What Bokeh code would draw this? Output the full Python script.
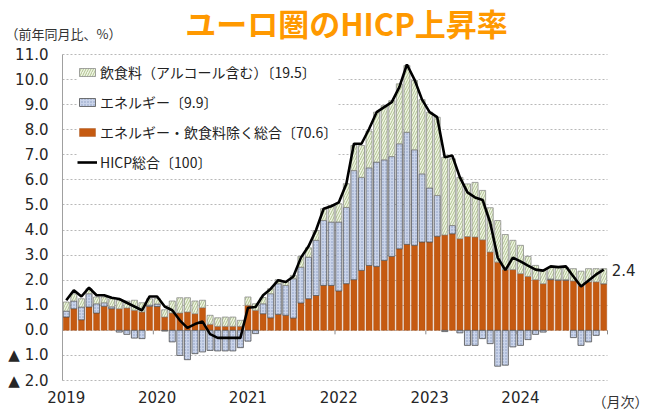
import numpy as np
from bokeh.plotting import figure
from bokeh.models import ColumnDataSource, FixedTicker, Label, Legend, LegendItem, Range1d, Grid
from bokeh.embed import file_html
from bokeh.resources import INLINE

# ---- data (percentage-point contributions, y/y %) ----
year_labels = ["2019", "2020", "2021", "2022", "2023", "2024"]

core = [0.53, 0.86, 0.42, 0.93, 0.69, 0.96, 0.86, 0.86, 0.89, 0.80, 0.73, 0.96,
        0.95, 0.53, 0.69, 0.69, 0.73, 0.66, 0.90, 0.24, 0.16, 0.16, 0.16, 0.16,
        1.00, 0.80, 0.66, 0.50, 0.64, 0.60, 0.49, 1.09, 1.26, 1.39, 1.79, 1.79,
        1.57, 1.86, 2.02, 2.39, 2.59, 2.55, 2.79, 2.95, 3.25, 3.43, 3.39, 3.52,
        3.52, 3.75, 3.80, 3.85, 3.65, 3.74, 3.72, 3.61, 3.12, 2.72, 2.42, 2.42,
        2.26, 2.15, 2.02, 1.86, 2.02, 2.00, 2.00, 1.97, 1.79, 1.93, 1.93, 1.86]

energy = [0.24, 0.31, 0.51, 0.53, 0.37, 0.14, 0.08, -0.07, -0.16, -0.31, -0.33, 0.05,
          0.10, -0.03, -0.46, -1.00, -1.17, -0.93, -0.86, -0.80, -0.82, -0.82, -0.82, -0.69,
          -0.43, -0.13, 0.40, 0.96, 1.22, 1.19, 1.57, 1.43, 1.66, 2.20, 2.59, 2.53,
          2.75, 3.04, 4.35, 3.71, 3.89, 4.16, 4.01, 3.98, 4.19, 4.47, 3.81, 2.72,
          2.16, 1.63, -0.05, 0.33, -0.10, -0.60, -0.60, -0.33, -0.53, -1.43, -1.39, -0.66,
          -0.60, -0.37, -0.16, -0.07, 0.03, 0.02, 0.02, -0.29, -0.60, -0.46, -0.20, 0.00]

food = [0.36, 0.29, 0.33, 0.20, 0.27, 0.23, 0.32, 0.34, 0.28, 0.40, 0.37, 0.25,
        0.22, 0.29, 0.48, 0.61, 0.57, 0.51, 0.30, 0.36, 0.34, 0.37, 0.37, 0.24,
        0.33, 0.26, 0.25, 0.20, 0.16, 0.14, 0.13, 0.43, 0.37, 0.39, 0.47, 0.66,
        0.73, 0.95, 1.00, 1.27, 1.47, 1.99, 2.16, 2.23, 2.39, 2.66, 2.76, 2.96,
        3.02, 3.12, 3.10, 2.66, 2.45, 2.10, 2.18, 1.97, 1.77, 1.66, 1.40, 1.17,
        1.13, 0.80, 0.57, 0.53, 0.45, 0.48, 0.48, 0.49, 0.57, 0.53, 0.53, 0.60]

hicp = [1.20, 1.60, 1.35, 1.70, 1.40, 1.40, 1.30, 1.25, 1.10, 0.95, 0.80, 1.35,
        1.35, 0.95, 0.80, 0.40, 0.10, 0.25, 0.35, -0.15, -0.30, -0.30, -0.30, -0.30,
        0.90, 0.93, 1.40, 1.65, 2.00, 1.93, 2.15, 2.90, 3.35, 4.00, 4.85, 4.95,
        5.10, 5.85, 7.44, 7.44, 8.03, 8.70, 8.90, 9.10, 9.70, 10.60, 10.00, 9.20,
        8.70, 8.50, 6.90, 6.97, 6.10, 5.50, 5.30, 5.20, 4.30, 2.90, 2.40, 2.90,
        2.75, 2.58, 2.42, 2.38, 2.55, 2.52, 2.55, 2.15, 1.75, 1.99, 2.23, 2.42]

y_ticks = [-2, -1, 0, 1, 2, 3, 4, 5, 6, 7, 8, 9, 10, 11]
y_tick_labels = ["▲ 2.0", "▲ 1.0", "0.0", "1.0", "2.0", "3.0", "4.0", "5.0",
                 "6.0", "7.0", "8.0", "9.0", "10.0", "11.0"]

legend_labels = ["飲食料（アルコール含む）〔19.5〕", "エネルギー〔9.9〕",
                 "エネルギー・飲食料除く総合〔70.6〕", "HICP総合〔100〕"]

# ---- derived stacking ----
n = len(core)
x = np.arange(n)
c = np.array(core)
e = np.array(energy)
f = np.array(food)
en_bottom = np.where(e >= 0, c, e)
en_top = np.where(e >= 0, c + e, 0.0)
food_bottom = c + np.maximum(e, 0)
food_top = food_bottom + f

src = ColumnDataSource(dict(x=x, core_top=c, en_bottom=en_bottom, en_top=en_top,
                            food_bottom=food_bottom, food_top=food_top, hicp=hicp))

# ---- layout geometry (pixels of the 650x412 canvas) ----
W, H = 650, 412
PL, PR, PT, PB = 62, 607, 54, 380            # plot area of the chart
x_lo, x_hi = -0.5, n - 0.5
y_lo, y_hi = y_ticks[0], y_ticks[-1]
sx = (PR - PL) / (x_hi - x_lo)
sy = (PB - PT) / (y_hi - y_lo)
xr = Range1d(x_lo - PL / sx, x_hi + (W - PR) / sx)
yr = Range1d(y_lo - (H - PB) / sy, y_hi + PT / sy)

def dx(px):   # canvas x pixel -> data x
    return x_lo + (px - PL) / sx

def dy(py):   # canvas y pixel -> data y
    return y_hi + (PT - py) / sy

p = figure(width=W, height=H, x_range=xr, y_range=yr,
           output_backend="svg", toolbar_location=None,
           min_border_left=0, min_border_right=0, min_border_top=0, min_border_bottom=0)
p.outline_line_color = None
p.background_fill_color = "white"
p.border_fill_color = "white"

CJK = "Noto Sans CJK JP"
NUM = "DejaVu Sans"
GRID_COLOR = "#b8b8b8"

# grid
p.xgrid.visible = False
yg = p.ygrid[0]
if "cross_bounds" in Grid.properties():
    yg.ticker = FixedTicker(ticks=y_ticks)
    yg.cross_bounds = (x_lo, x_hi)
    yg.grid_line_color = GRID_COLOR
    yg.grid_line_dash = "2 2"
    yg.grid_line_width = 1
else:
    yg.visible = False
    p.segment(x0=[x_lo] * len(y_ticks), y0=y_ticks, x1=[x_hi] * len(y_ticks), y1=y_ticks,
              line_color=GRID_COLOR, line_dash="2 2", line_width=1)

# axes (drawn at fixed data locations inside the canvas)
ya = p.yaxis[0]
ya.fixed_location = x_lo
ya.bounds = (y_lo, y_hi)
ya.ticker = FixedTicker(ticks=y_ticks)
ya.major_label_overrides = {t: l for t, l in zip(y_ticks, y_tick_labels)}
ya.axis_line_color = "#a0a0a0"
ya.major_tick_line_color = None
ya.minor_tick_line_color = None
ya.major_label_standoff = 8
ya.major_label_text_font = NUM
ya.major_label_text_font_size = "15px"
ya.major_label_text_color = "#262626"

year_ticks = [12 * k for k in range(len(year_labels))]
xa = p.xaxis[0]
xa.fixed_location = y_lo
xa.bounds = (x_lo, x_hi)
xa.ticker = FixedTicker(ticks=year_ticks)
xa.major_label_overrides = {t: l for t, l in zip(year_ticks, year_labels)}
xa.axis_line_color = None
xa.major_tick_line_color = None
xa.minor_tick_line_color = None
xa.major_label_standoff = 4
xa.major_label_text_font = NUM
xa.major_label_text_font_size = "15px"
xa.major_label_text_color = "#262626"

# bars
core_color = "#C55A11"
r_core = p.vbar(x="x", width=0.8, bottom=0, top="core_top", source=src,
                fill_color=core_color, line_color="#A24A0E", line_width=0.4)
r_en = p.vbar(x="x", width=0.8, bottom="en_bottom", top="en_top", source=src,
              fill_color="#CAD4EA", hatch_pattern=".", hatch_color="#8A9AC0",
              hatch_scale=3, hatch_weight=1,
              line_color="#505050", line_width=0.8)
r_food = p.vbar(x="x", width=0.8, bottom="food_bottom", top="food_top", source=src,
                fill_color="#F1F5E6", hatch_pattern="/", hatch_color="#A7BD85",
                hatch_scale=5, hatch_weight=0.9,
                line_color="#808080", line_width=0.7)

# year boundary ticks on the zero line
bounds = np.arange(12, n + 1, 12) - 0.5
p.segment(x0=bounds, y0=0, x1=bounds, y1=-0.16, line_color="#8a8a8a", line_width=1)

r_line = p.line(x="x", y="hicp", source=src, line_color="black", line_width=2.6)

legend = Legend(items=[LegendItem(label=legend_labels[0], renderers=[r_food]),
                       LegendItem(label=legend_labels[1], renderers=[r_en]),
                       LegendItem(label=legend_labels[2], renderers=[r_core]),
                       LegendItem(label=legend_labels[3], renderers=[r_line])],
                location=(77, 240))
legend.padding = 3
legend.margin = 0
legend.spacing = 10
legend.label_height = 20
legend.glyph_height = 10
legend.glyph_width = 20
legend.label_standoff = 3
legend.label_text_font = CJK
legend.label_text_font_size = "14px"
legend.label_text_color = "#222222"
legend.border_line_color = None
legend.background_fill_color = "white"
legend.background_fill_alpha = 1.0
p.add_layout(legend)

# texts
p.add_layout(Label(x=n - 1, y=hicp[-1], x_offset=8, text=f"{hicp[-1]:.1f}",
                   text_baseline="middle", text_font=NUM, text_font_size="15px",
                   text_color="#262626"))
p.add_layout(Label(x=dx(346), y=dy(22), text="ユーロ圏のHICP上昇率", text_align="center",
                   text_baseline="middle", text_font=CJK, text_font_style="bold",
                   text_font_size="31px", text_color="#FF9900"))
p.add_layout(Label(x=dx(5), y=dy(33), text="（前年同月比、%）", text_align="left",
                   text_baseline="middle", text_font=CJK, text_font_size="13px",
                   text_color="#333333"))
p.add_layout(Label(x=dx(648), y=dy(410), text="（月次）", text_align="right",
                   text_baseline="bottom", text_font=CJK, text_font_size="14px",
                   text_color="#333333"))

open("out.html", "w").write(file_html(p, INLINE))
